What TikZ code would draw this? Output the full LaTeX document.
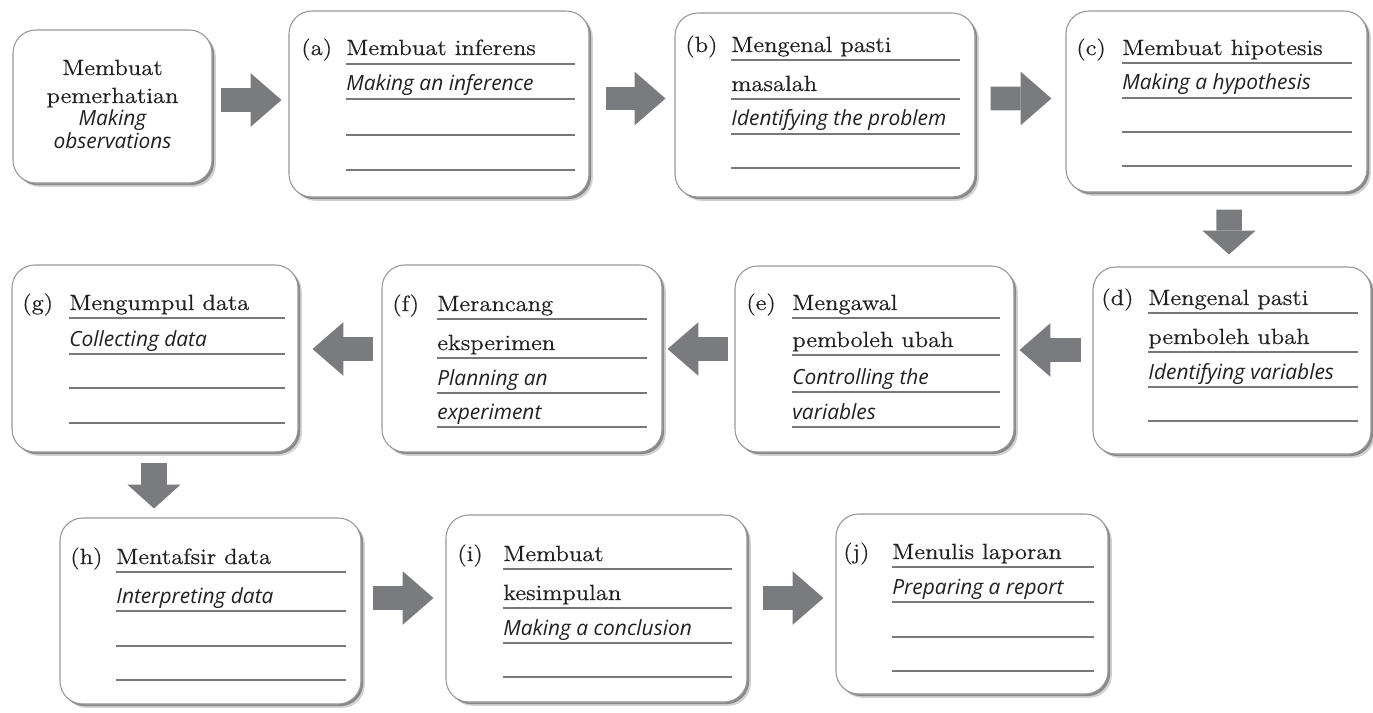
\documentclass[tikz,border=0pt]{standalone}
\usepackage{fontspec}
\newfontfamily\malayfont{lmroman12-regular.otf}[FakeStretch=1.12, FakeBold=0.6]
\newfontfamily\itsans{Open Sans}
\usetikzlibrary{shadows,arrows.meta,calc}

\definecolor{arrowgray}{RGB}{122,123,127}
\definecolor{rulegray}{RGB}{120,120,123}
\definecolor{boxedge}{RGB}{150,150,152}
\definecolor{ink}{RGB}{35,31,32}

% a rounded step box given by its corners (in picture units)
\newcommand\flowbox[5]{%
  \node[stepbox, minimum width={(#4-#2)*0.02cm}, minimum height={(#5-#3)*0.02cm}]
    (#1) at ({(#2+#4)/2},{(#3+#5)/2}) {};}
% a writing rule inside a box
\newcommand\writerule[3]{\draw[writing] (#1,#3) -- (#2,#3);}

\tikzset{
  stepbox/.style={draw=boxedge, line width=0.6pt, fill=white,
    rounded corners=13pt, inner sep=0pt,
    drop shadow={shadow xshift=2.2pt, shadow yshift=-2.2pt, opacity=0.18, fill=black},
    drop shadow={shadow xshift=1.2pt, shadow yshift=-1.2pt, opacity=0.35, fill=black}},
  malay/.style={anchor=base west, inner sep=0pt, text=ink,
    font=\malayfont\fontsize{12.5}{14}\selectfont},
  english/.style={anchor=base west, inner sep=0pt, text=ink,
    font=\itsans\itshape\fontsize{11.9}{13}\selectfont},
  writing/.style={draw=rulegray, line width=0.6pt},
  hflow/.style={draw=arrowgray, line width=13.6pt,
    -{Triangle[length=17.6pt 0 1, width=30.6pt 0 1, line width=0pt]}},
  vflow/.style={draw=arrowgray, line width=14.5pt,
    -{Triangle[length=13.6pt 0 1, width=30.3pt 0 1, line width=0pt]}},
}

\begin{document}
\begin{tikzpicture}[x=0.02cm,y=-0.02cm]
\useasboundingbox (0,0) rectangle (1373,713);

% ---------- boxes ----------
\flowbox{b0}{13}{30}{212}{183}
\flowbox{ba}{289}{11}{589}{197}
\flowbox{bb}{675}{13}{975}{197}
\flowbox{bc}{1066}{11}{1367}{192}
\flowbox{bd}{1093}{267}{1371}{454}
\flowbox{be}{735}{266}{1014}{452}
\flowbox{bf}{382}{265}{662}{452}
\flowbox{bg}{12}{265}{298}{452}
\flowbox{bh}{60}{518}{361}{704}
\flowbox{bi}{446}{515}{747}{702}
\flowbox{bj}{836}{514}{1108}{694}

% ---------- starting box ----------
\node[malay, anchor=base] (o1) at (112.5,75) {Membuat};
\node[malay, anchor=base] (o2) at (112.5,103) {pemerhatian};
\node[english, anchor=base] (o3) at (112.5,126) {Making};
\node[english, anchor=base] (o4) at (112.5,149) {observations};

% ---------- (a) ----------
\node[malay] (la) at (301,55) {(a)};
\node[malay] (a1) at (346,55) {Membuat inferens};
\node[english] (a2) at (346,91) {Making an inference};
\writerule{346}{575}{64}\writerule{346}{575}{99}
\writerule{346}{575}{135}\writerule{346}{575}{170}

% ---------- (b) ----------
\node[malay] (lb) at (685,52) {(b)};
\node[malay] (b1) at (731,52) {Mengenal pasti};
\node[malay] (b2) at (731,91) {masalah};
\node[english] (b3) at (731,126) {Identifying the problem};
\writerule{731}{960}{60}\writerule{731}{960}{99}
\writerule{731}{960}{134}\writerule{731}{960}{168}

% ---------- (c) ----------
\node[malay] (lc) at (1076,55) {(c)};
\node[malay] (c1) at (1122,55) {Membuat hipotesis};
\node[english] (c2) at (1122,90) {Making a hypothesis};
\writerule{1122}{1352}{63}\writerule{1122}{1352}{98}
\writerule{1122}{1352}{132}\writerule{1122}{1352}{166}

% ---------- (d) ----------
\node[malay] (ld) at (1101,305) {(d)};
\node[malay] (d1) at (1148,305) {Mengenal pasti};
\node[malay] (d2) at (1148,344) {pemboleh ubah};
\node[english] (d3) at (1148,379) {Identifying variables};
\writerule{1148}{1358}{313}\writerule{1148}{1358}{352}
\writerule{1148}{1358}{387}\writerule{1148}{1358}{421}

% ---------- (e) ----------
\node[malay] (le) at (746,310) {(e)};
\node[malay] (e1) at (792,310) {Mengawal};
\node[malay] (e2) at (792,347) {pemboleh ubah};
\node[english] (e3) at (792,384) {Controlling the};
\node[english] (e4) at (792,419) {variables};
\writerule{792}{1000}{318}\writerule{792}{1000}{355}
\writerule{792}{1000}{392}\writerule{792}{1000}{427}

% ---------- (f) ----------
\node[malay] (lf) at (392,311) {(f)};
\node[malay] (f1) at (437,311) {Merancang};
\node[malay] (f2) at (437,350) {eksperimen};
\node[english] (f3) at (437,385) {Planning an};
\node[english] (f4) at (437,419) {experiment};
\writerule{437}{647}{319}\writerule{437}{647}{358}
\writerule{437}{647}{393}\writerule{437}{647}{427}

% ---------- (g) ----------
\node[malay] (lg) at (22,310) {(g)};
\node[malay] (g1) at (69,310) {Mengumpul data};
\node[english] (g2) at (69,346) {Collecting data};
\writerule{69}{285}{318}\writerule{69}{285}{354}
\writerule{69}{285}{388}\writerule{69}{285}{423}

% ---------- (h) ----------
\node[malay] (lh) at (70,564) {(h)};
\node[malay] (h1) at (116,564) {Mentafsir data};
\node[english] (h2) at (116,603) {Interpreting data};
\writerule{116}{346}{572}\writerule{116}{346}{611}
\writerule{116}{346}{646}\writerule{116}{346}{680}

% ---------- (i) ----------
\node[malay] (li) at (457,561) {(i)};
\node[malay] (i1) at (503,561) {Membuat};
\node[malay] (i2) at (503,600) {kesimpulan};
\node[english] (i3) at (503,635) {Making a conclusion};
\writerule{503}{732}{569}\writerule{503}{732}{608}
\writerule{503}{732}{643}\writerule{503}{732}{677}

% ---------- (j) ----------
\node[malay] (lj) at (843,559) {(j)};
\node[malay] (j1) at (892,559) {Menulis laporan};
\node[english] (j2) at (892,594) {Preparing a report};
\writerule{892}{1094}{567}\writerule{892}{1094}{602}
\writerule{892}{1094}{637}\writerule{892}{1094}{671}

% ---------- block arrows ----------
\draw[hflow] ([shift={(8,-6.5)}]b0.east) -- ([shift={(-7,-4)}]ba.west);
\draw[hflow] ([shift={(16,-5.5)}]ba.east) -- ([shift={(-9,-6.5)}]bb.west);
\draw[hflow] ([shift={(15,-6.5)}]bb.east) -- ([shift={(-14,-3)}]bc.west);
\draw[vflow] ([shift={(12.5,17)}]bc.south) -- ([shift={(-3,-12)}]bd.north);
\draw[hflow] ([shift={(-11,-10.5)}]bd.west) -- ([shift={(5,-9)}]be.east);
\draw[hflow] ([shift={(-6,-10)}]be.west) -- ([shift={(5,-9.5)}]bf.east);
\draw[hflow] ([shift={(-8,-9.5)}]bf.west) -- ([shift={(14,-9.5)}]bg.east);
\draw[vflow] ([shift={(-1,10)}]bg.south) -- ([shift={(-1,-9)}]bg.south |- bh.north);
\draw[hflow] ([shift={(11,-13)}]bh.east) -- ([shift={(-12,-10.5)}]bi.west);
\draw[hflow] ([shift={(15,-10.5)}]bi.east) -- ([shift={(-12,-6)}]bj.west);
\end{tikzpicture}
\end{document}
